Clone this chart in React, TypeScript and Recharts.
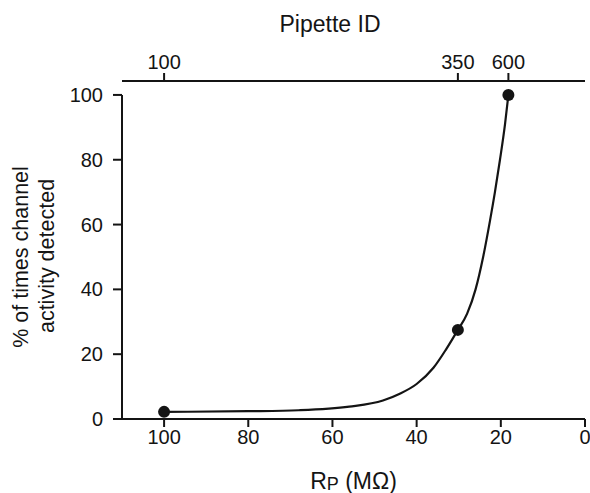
import React from 'react';
import {
  ComposedChart,
  Line,
  Scatter,
  XAxis,
  YAxis,
  ReferenceLine
} from 'recharts';

// measured points: pipette resistance (MOhm) vs % detection
const rpValues = [100, 30.2, 18.2];
const detected = [2.2, 27.5, 100];
const pipetteIds = ['100', '350', '600'];

// fitted curve
const fitRp = [100, 80, 68, 56, 48, 44, 40, 36, 33, 30.2, 28, 26, 24.2, 22.6, 21.4, 20.2, 19, 18.2];
const fitPct = [2.2, 2.4, 2.7, 3.8, 5.7, 7.8, 10.8, 15.8, 21.5, 27.5, 32.5, 40, 50, 61, 70, 80, 91, 100];

const bottomTicks = [0, 20, 40, 60, 80, 100];
const yTicks = [0, 20, 40, 60, 80, 100];

const INK = '#141414';
const FONT = '"Liberation Sans", Arial, Helvetica, sans-serif';

const points = rpValues.map((rp, i) => ({ rp, pct: detected[i] }));
const curve = fitRp.map((rp, i) => ({ rp, pct: fitPct[i] }));

const tickStyle = { fontSize: 20, fill: INK, fontFamily: FONT };

function YTitle() {
  return (
    <g>
      <text x={28} y={257} transform="rotate(-90, 28, 257)" textAnchor="middle"
        fontFamily={FONT} fontSize={21.5} fill={INK}>
        % of times channel
      </text>
      <text x={54} y={256} transform="rotate(-90, 54, 256)" textAnchor="middle"
        fontFamily={FONT} fontSize={21.5} fill={INK}>
        activity detected
      </text>
    </g>
  );
}

function XTitle(props: any) {
  const vb = props.viewBox || {};
  const cx = (vb.x ?? 0) + (vb.width ?? 0) / 2;
  return (
    <text x={cx} y={489} textAnchor="middle" fontFamily={FONT} fontSize={23} fill={INK}>
      R
      <tspan fontSize={18} dy={1}>P</tspan>
      <tspan dy={-1}> (MΩ)</tspan>
    </text>
  );
}

function TopTitle() {
  return (
    <text x={330} y={32} textAnchor="middle" fontFamily={FONT} fontSize={23} fill={INK}>
      Pipette ID
    </text>
  );
}

export default function App() {
  return (
    <div style={{ position: 'absolute', left: 0, top: 0, width: 590, height: 493, background: '#fff' }}>
      <ComposedChart width={590} height={493} margin={{ top: 0, right: 5, bottom: 0, left: 0 }}>
        <XAxis
          xAxisId="top"
          orientation="top"
          dataKey="rp"
          type="number"
          domain={[0, 110]}
          reversed
          allowDataOverflow
          ticks={rpValues}
          tickFormatter={(_v: number, i: number) => pipetteIds[i]}
          height={81}
          tickSize={8}
          tickMargin={4}
          tick={tickStyle}
          axisLine={{ stroke: INK, strokeWidth: 2 }}
          tickLine={{ stroke: INK, strokeWidth: 2 }}
          label={<TopTitle />}
        />
        <XAxis
          xAxisId="bottom"
          orientation="bottom"
          dataKey="rp"
          type="number"
          domain={[0, 110]}
          reversed
          allowDataOverflow
          ticks={bottomTicks}
          height={74}
          tickSize={8}
          tickMargin={3}
          tick={tickStyle}
          axisLine={{ stroke: INK, strokeWidth: 2 }}
          tickLine={{ stroke: INK, strokeWidth: 2 }}
          label={<XTitle />}
        />
        <YAxis
          yAxisId="left"
          type="number"
          domain={[0, 104.3]}
          allowDataOverflow
          ticks={yTicks}
          width={122}
          tickSize={9}
          tickMargin={10}
          tick={tickStyle}
          axisLine={false}
          tickLine={{ stroke: INK, strokeWidth: 2 }}
          label={<YTitle />}
        />
        <ReferenceLine
          xAxisId="bottom"
          yAxisId="left"
          segment={[{ x: 110, y: 0 }, { x: 110, y: 100 }]}
          stroke={INK}
          strokeWidth={2}
        />
        <Line
          xAxisId="bottom"
          yAxisId="left"
          data={curve}
          dataKey="pct"
          type="monotone"
          stroke={INK}
          strokeWidth={2.2}
          dot={false}
          activeDot={false}
          isAnimationActive={false}
        />
        <Scatter
          xAxisId="top"
          yAxisId="left"
          data={points}
          dataKey="pct"
          fill={INK}
          shape={(p: any) => <circle cx={p.cx} cy={p.cy} r={6} fill={INK} />}
          isAnimationActive={false}
        />
      </ComposedChart>
    </div>
  );
}
